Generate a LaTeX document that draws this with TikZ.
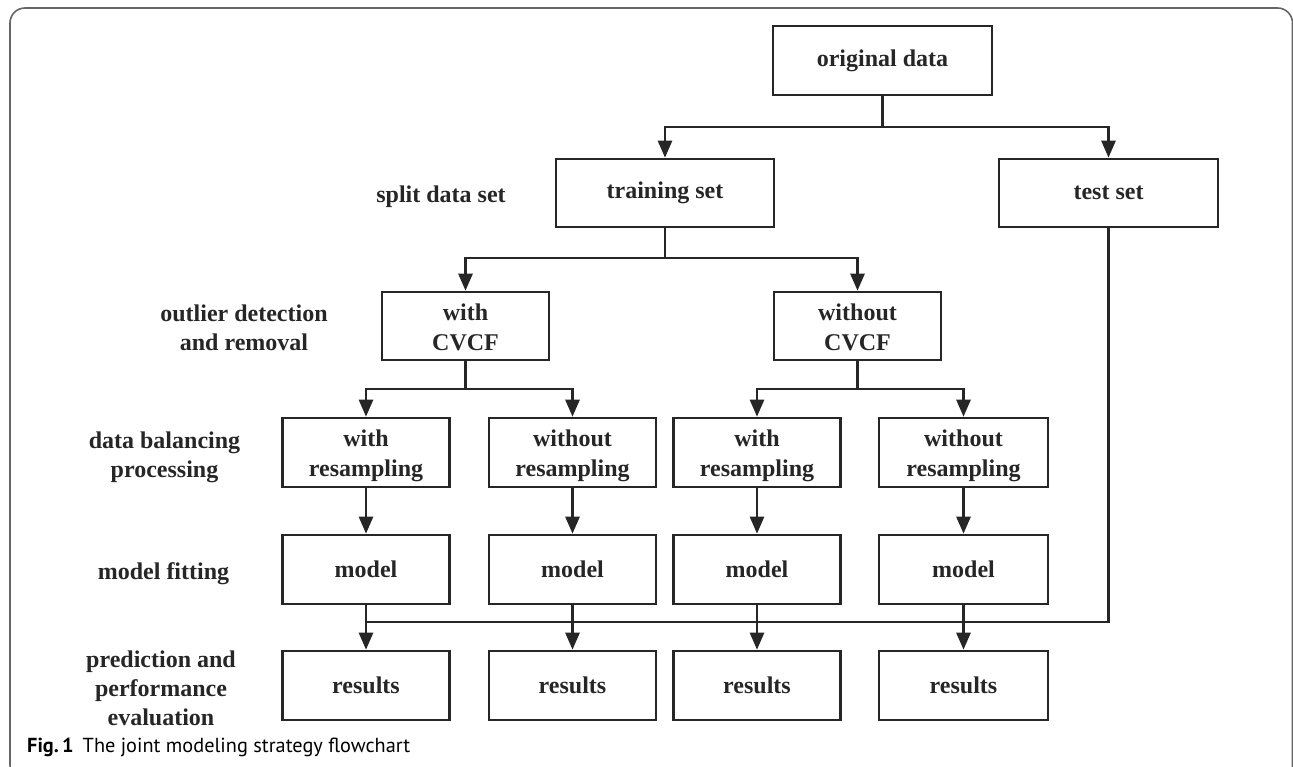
\documentclass[tikz,border=0pt]{standalone}
\usepackage{fontspec}
\setmainfont{Liberation Serif}
\newfontfamily\capfont{PT Sans}
\usetikzlibrary{arrows.meta}
\definecolor{ink}{HTML}{262626}
\definecolor{framegray}{HTML}{666666}
% two-line box text, set slightly below the box centre
\newcommand\twolines[2]{\raisebox{-3pt}[\height][\depth]{%
  \begin{tabular}{@{}c@{}}#1\\#2\end{tabular}}}
\tikzset{
  flowbox/.style={draw=ink, line width=2.6pt, inner sep=0pt, align=center,
    text=ink, font=\fontsize{24}{30}\selectfont\bfseries},
  topbox/.style={flowbox, minimum width=218pt, minimum height=68pt},
  midbox/.style={flowbox, minimum width=167pt, minimum height=68pt},
  lowbox/.style={flowbox, minimum width=167pt, minimum height=69pt},
  stagelabel/.style={align=center, text=ink, inner sep=0pt,
    font=\fontsize{24}{29}\selectfont\bfseries},
  link/.style={draw=ink, line width=2.6pt},
  arr/.style={link, -{Triangle[length=17pt, width=14pt]}},
}
\begin{document}
\begin{tikzpicture}[x=1pt, y=-1pt]
\useasboundingbox (0,0) rectangle (1293,766);
% outer panel frame
\draw[framegray, line width=1.6pt, rounded corners=15pt] (10,8) rectangle (1292.5,780);

% boxes
\node[topbox, minimum width=219pt, minimum height=69pt] (orig) at (882.5,60.5) {original data};
\node[topbox] (train) at (665,193) {training set};
\node[topbox, minimum width=219pt] (test) at (1108.5,193) {test set};

\node[midbox] (cv1) at (465.5,326) {\twolines{with}{CVCF}};
\node[midbox] (cv2) at (857.5,326) {\twolines{without}{CVCF}};

\node[lowbox] (rs1) at (366,452.5) {\twolines{with}{resampling}};
\node[lowbox] (rs2) at (572.5,452.5) {\twolines{without}{resampling}};
\node[lowbox] (rs3) at (757,452.5) {\twolines{with}{resampling}};
\node[lowbox, minimum width=169pt] (rs4) at (963.5,452.5) {\twolines{without}{resampling}};

\node[lowbox] (md1) at (366,569.5) {model};
\node[lowbox] (md2) at (572.5,569.5) {model};
\node[lowbox] (md3) at (757,569.5) {model};
\node[lowbox, minimum width=169pt] (md4) at (963.5,569.5) {model};

\node[lowbox] (out1) at (366,685.5) {results};
\node[lowbox] (out2) at (572.5,685.5) {results};
\node[lowbox] (out3) at (757,685.5) {results};
\node[lowbox, minimum width=169pt] (out4) at (963.5,685.5) {results};

% stage labels
\node[stagelabel] (lsplit) at (441,197) {split data set};
\node[stagelabel] (lout) at (244,328) {outlier detection\\and removal};
\node[stagelabel] (lbal) at (164.5,457.5) {data balancing\\processing};
\node[stagelabel] (lfit) at (163.5,574) {model fitting};
\node[stagelabel] (lpred) at (161,688) {prediction and\\performance\\evaluation};

% caption
\node[anchor=base west, inner sep=0pt, text=black, font=\capfont\fontsize{20.3}{24}\selectfont]
  (cap) at (27,752) {\textbf{Fig.\,1}\hspace{9pt}The joint modeling strategy flowchart};

% junction points
\coordinate (j0) at (882.5,127);
\coordinate (j1) at (665,258);
\coordinate (j2) at (465.5,389);
\coordinate (j3) at (857.5,389);
\coordinate (tc) at (1108.5,622);
\coordinate (te) at (366,622);

% connectors
\draw[link] (orig.south) -- (j0);
\draw[arr] (j0) -| (train.north);
\draw[arr] (j0) -| (test.north);

\draw[link] (train.south) -- (j1);
\draw[arr] (j1) -| (cv1.north);
\draw[arr] (j1) -| (cv2.north);

\draw[link] (cv1.south) -- (j2);
\draw[arr] (j2) -| (rs1.north);
\draw[arr] (j2) -| (rs2.north);
\draw[link] (cv2.south) -- (j3);
\draw[arr] (j3) -| (rs3.north);
\draw[arr] (j3) -| (rs4.north);

\foreach \i in {1,2,3,4} {
  \draw[arr] (rs\i.south) -- (md\i.north);
  \draw[arr] (md\i.south) -- (out\i.north);
}

\draw[link, line join=miter] (test.south) -- (tc) -- (te);
\end{tikzpicture}
\end{document}
